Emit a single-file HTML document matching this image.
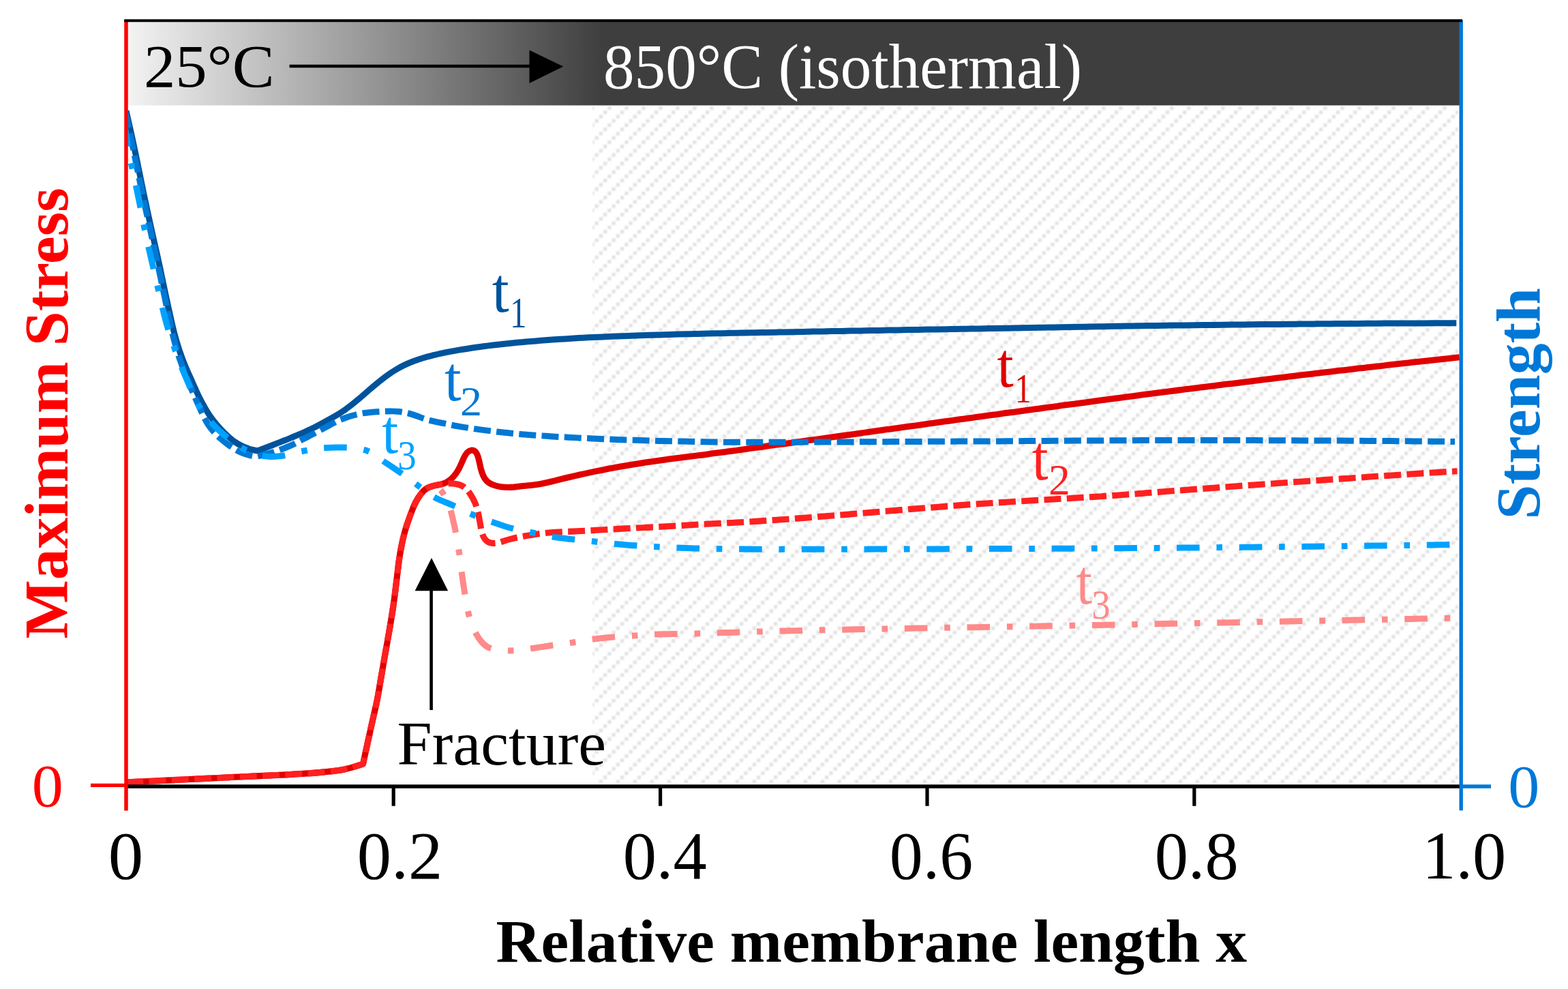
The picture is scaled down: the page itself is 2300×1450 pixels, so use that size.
<!DOCTYPE html>
<html lang="en">
<head>
<meta charset="utf-8">
<title>Maximum stress and strength vs relative membrane length</title>
<style>
html,body{margin:0;padding:0;background:#fff;}
body{width:2300px;height:1450px;overflow:hidden;}
svg{display:block;}
</style>
</head>
<body>
<svg width="2300" height="1450" viewBox="0 0 2300 1450" font-family="'Liberation Serif', serif" role="img" aria-label="Maximum stress and strength versus relative membrane length x">
<defs>
<linearGradient id="g" gradientUnits="userSpaceOnUse" x1="187" y1="0" x2="885" y2="0"><stop offset="0" stop-color="#f3f3f3"/><stop offset="1" stop-color="#3e3e3e"/></linearGradient>
<pattern id="h" patternUnits="userSpaceOnUse" x="-3" y="-1" width="25" height="25" fill="#e1e1e1"><rect x="0.55" y="0.65" width="5.2" height="5.2"/><rect x="19.3" y="6.9" width="5.2" height="5.2"/><rect x="13.05" y="13.15" width="5.2" height="5.2"/><rect x="6.8" y="19.4" width="5.2" height="5.2"/></pattern>
<filter id="b" x="0" y="0" width="1" height="1"><feGaussianBlur stdDeviation="0.8"/></filter>
<clipPath id="c"><rect x="187.4" y="154" width="1954" height="1000"/></clipPath>
</defs>
<rect width="2300" height="1450" fill="#fff"/>
<g>
<rect x="869" y="155" width="1270" height="993" fill="url(#h)" filter="url(#b)"/>
<g clip-path="url(#c)">
<path d="M185.0 1147.0C189.7 1146.8 194.3 1146.6 199.0 1146.3C203.7 1146.1 208.3 1145.9 213.0 1145.7C217.7 1145.4 222.3 1145.2 227.0 1145.0C231.7 1144.8 236.3 1144.5 241.0 1144.3C245.7 1144.1 250.3 1143.9 255.0 1143.6C259.7 1143.4 264.3 1143.2 269.0 1143.0C273.7 1142.7 278.3 1142.5 283.0 1142.3C287.6 1142.1 292.3 1141.8 297.0 1141.6C301.6 1141.4 306.3 1141.1 311.0 1140.9C315.6 1140.7 320.3 1140.5 325.0 1140.2C329.6 1140.0 334.3 1139.8 339.0 1139.5C343.6 1139.3 348.3 1139.1 353.0 1138.9C357.6 1138.6 362.3 1138.4 367.0 1138.2C371.6 1138.0 376.3 1137.8 381.0 1137.6C385.6 1137.4 390.3 1137.2 395.0 1137.0C399.6 1136.8 404.3 1136.6 409.0 1136.3C413.6 1136.1 418.3 1135.9 423.0 1135.6C427.6 1135.4 432.3 1135.1 437.0 1134.8C441.6 1134.6 446.3 1134.3 450.9 1133.9C455.6 1133.6 460.3 1133.3 464.9 1132.9C469.6 1132.5 474.2 1132.1 478.9 1131.6C483.5 1131.1 488.2 1130.6 492.8 1130.0C497.4 1129.4 502.0 1128.6 506.6 1127.6C511.1 1126.6 515.6 1125.3 520.1 1124.0C524.3 1122.7 528.4 1121.4 532.5 1120.0C533.5 1115.4 534.5 1110.9 535.5 1106.3C536.5 1101.8 537.5 1097.2 538.5 1092.6C539.5 1088.1 540.5 1083.5 541.5 1079.0C542.5 1074.4 543.5 1069.8 544.5 1065.3C545.5 1060.7 546.6 1056.2 547.6 1051.6C548.6 1047.1 549.7 1042.5 550.7 1038.0C551.7 1033.4 552.7 1028.9 553.6 1024.3C554.5 1019.7 555.3 1015.1 556.1 1010.5C556.9 1005.9 557.6 1001.3 558.4 996.7C559.2 992.1 560.0 987.5 560.8 982.9C561.6 978.3 562.4 973.7 563.2 969.1C564.0 964.5 564.8 959.9 565.6 955.3C566.4 950.7 567.3 946.1 568.1 941.5C568.9 936.9 569.7 932.3 570.5 927.7C571.3 923.1 572.1 918.5 572.8 913.9C573.6 909.3 574.4 904.7 575.1 900.1C575.8 895.5 576.6 890.9 577.2 886.2C577.9 881.6 578.5 877.0 579.1 872.4C579.7 867.7 580.3 863.1 580.8 858.5C581.4 853.8 581.9 849.2 582.5 844.6C583.0 839.9 583.6 835.3 584.2 830.7C584.7 826.0 585.3 821.4 586.1 816.8C586.8 812.2 587.6 807.6 588.4 803.0C589.3 798.4 590.3 793.8 591.3 789.3C592.4 784.7 593.6 780.2 594.9 775.8C596.3 771.3 597.8 766.9 599.3 762.5C600.9 758.1 602.5 753.7 604.1 749.3C605.8 745.0 607.6 740.6 609.7 736.5C611.9 732.3 614.3 728.3 617.1 724.7C620.0 721.0 623.3 717.6 627.3 715.6C631.4 713.7 636.3 713.0 640.3 714.3C644.4 715.7 647.4 719.4 649.9 723.3C652.4 727.3 654.4 731.5 656.3 735.8C658.2 740.1 659.9 744.4 661.2 748.9C662.6 753.3 663.6 757.9 664.6 762.4C665.7 767.0 666.6 771.5 667.6 776.1C668.5 780.7 669.4 785.3 670.2 789.9C671.1 794.5 671.8 799.1 672.6 803.7C673.3 808.3 673.9 812.9 674.5 817.5C675.1 822.2 675.7 826.8 676.2 831.4C676.8 836.1 677.4 840.7 678.1 845.3C678.7 849.9 679.4 854.6 680.1 859.2C680.8 863.8 681.5 868.4 682.3 873.0C683.0 877.6 683.8 882.2 684.6 886.8C685.4 891.4 686.4 896.0 687.5 900.5C688.6 905.0 690.0 909.5 691.6 913.9C693.1 918.3 694.9 922.6 697.0 926.8C699.2 930.9 701.6 934.9 704.4 938.6C707.3 942.2 710.6 945.7 714.4 948.1C718.3 950.6 722.8 951.7 727.4 952.4C732.1 953.1 736.7 953.5 741.4 953.7C746.0 954.0 750.7 953.9 755.4 953.6C760.0 953.3 764.6 952.7 769.3 952.1C773.9 951.4 778.5 950.8 783.1 950.2C787.8 949.5 792.4 948.8 797.0 948.1C801.6 947.4 806.2 946.7 810.8 946.0C815.5 945.4 820.1 944.8 824.7 944.1C829.3 943.5 834.0 942.9 838.6 942.2C843.2 941.5 847.8 940.7 852.4 939.9C857.0 939.1 861.6 938.2 866.2 937.6C870.8 936.9 875.5 936.4 880.1 935.9C884.7 935.4 889.4 934.9 894.0 934.5C898.7 934.1 903.3 933.7 908.0 933.4C912.7 933.1 917.3 932.8 922.0 932.5C926.6 932.2 931.3 931.9 935.9 931.6C940.6 931.2 945.3 930.8 949.9 930.5C954.6 930.2 959.2 930.0 963.9 929.9C968.6 929.8 973.2 929.8 977.9 929.7C982.6 929.6 987.2 929.6 991.9 929.5C996.6 929.4 1001.2 929.3 1005.9 929.2C1010.6 929.1 1015.2 929.0 1019.9 928.9C1024.6 928.7 1029.2 928.6 1033.9 928.5C1038.6 928.3 1043.2 928.2 1047.9 928.1C1052.6 927.9 1057.2 927.8 1061.9 927.6C1066.6 927.5 1071.2 927.3 1075.9 927.2C1080.6 927.0 1085.2 926.9 1089.9 926.7C1094.6 926.6 1099.2 926.4 1103.9 926.3C1108.6 926.1 1113.2 926.0 1117.9 925.9C1122.6 925.7 1127.2 925.6 1131.9 925.5C1136.6 925.3 1141.2 925.2 1145.9 925.1C1150.6 925.0 1155.2 924.9 1159.9 924.8C1164.6 924.7 1169.2 924.6 1173.9 924.5C1178.6 924.4 1183.2 924.2 1187.9 924.1C1192.6 924.0 1197.2 923.9 1201.9 923.8C1206.6 923.7 1211.2 923.6 1215.9 923.6C1220.6 923.5 1225.2 923.4 1229.9 923.3C1234.6 923.2 1239.2 923.1 1243.9 923.0C1248.6 922.9 1253.2 922.8 1257.9 922.7C1262.6 922.6 1267.2 922.5 1271.9 922.4C1276.6 922.3 1281.2 922.3 1285.9 922.2C1290.6 922.1 1295.2 922.0 1299.9 921.9C1304.6 921.8 1309.2 921.7 1313.9 921.6C1318.6 921.6 1323.2 921.5 1327.9 921.4C1332.6 921.3 1337.2 921.2 1341.9 921.1C1346.6 921.1 1351.2 921.0 1355.9 920.9C1360.6 920.8 1365.2 920.7 1369.9 920.7C1374.6 920.6 1379.2 920.5 1383.9 920.4C1388.6 920.3 1393.2 920.2 1397.9 920.2C1402.6 920.1 1407.2 920.0 1411.9 919.9C1416.6 919.8 1421.2 919.8 1425.9 919.7C1430.6 919.6 1435.3 919.5 1439.9 919.4C1444.6 919.4 1449.3 919.3 1453.9 919.2C1458.6 919.1 1463.3 919.0 1467.9 919.0C1472.6 918.9 1477.3 918.8 1481.9 918.7C1486.6 918.6 1491.3 918.6 1495.9 918.5C1500.6 918.4 1505.3 918.3 1509.9 918.2C1514.6 918.2 1519.3 918.1 1523.9 918.0C1528.6 917.9 1533.3 917.8 1537.9 917.7C1542.6 917.7 1547.3 917.6 1551.9 917.5C1556.6 917.4 1561.3 917.3 1565.9 917.2C1570.6 917.2 1575.3 917.1 1579.9 917.0C1584.6 916.9 1589.3 916.8 1593.9 916.7C1598.6 916.6 1603.3 916.5 1607.9 916.4C1612.6 916.4 1617.3 916.3 1621.9 916.2C1626.6 916.1 1631.3 916.0 1635.9 915.9C1640.6 915.8 1645.3 915.7 1649.9 915.6C1654.6 915.6 1659.3 915.5 1663.9 915.4C1668.6 915.3 1673.3 915.2 1678.0 915.1C1682.6 915.0 1687.3 914.9 1692.0 914.8C1696.6 914.7 1701.3 914.7 1706.0 914.6C1710.6 914.5 1715.3 914.4 1720.0 914.3C1724.6 914.2 1729.3 914.1 1734.0 914.0C1738.6 913.9 1743.3 913.8 1748.0 913.8C1752.6 913.7 1757.3 913.6 1762.0 913.5C1766.6 913.4 1771.3 913.3 1776.0 913.2C1780.6 913.1 1785.3 913.0 1790.0 912.9C1794.6 912.8 1799.3 912.8 1804.0 912.7C1808.6 912.6 1813.3 912.5 1818.0 912.4C1822.6 912.3 1827.3 912.2 1832.0 912.1C1836.6 912.0 1841.3 911.9 1846.0 911.8C1850.6 911.7 1855.3 911.7 1860.0 911.6C1864.6 911.5 1869.3 911.4 1874.0 911.3C1878.6 911.2 1883.3 911.1 1888.0 911.0C1892.6 910.9 1897.3 910.8 1902.0 910.7C1906.6 910.6 1911.3 910.6 1916.0 910.5C1920.6 910.4 1925.3 910.3 1930.0 910.2C1934.6 910.1 1939.3 910.0 1944.0 909.9C1948.6 909.8 1953.3 909.7 1958.0 909.6C1962.6 909.5 1967.3 909.5 1972.0 909.4C1976.7 909.3 1981.3 909.2 1986.0 909.1C1990.7 909.0 1995.3 908.9 2000.0 908.8C2004.7 908.7 2009.3 908.6 2014.0 908.5C2018.7 908.4 2023.3 908.3 2028.0 908.2C2032.7 908.2 2037.3 908.1 2042.0 908.0C2046.7 907.9 2051.3 907.8 2056.0 907.7C2060.7 907.6 2065.3 907.5 2070.0 907.4C2074.7 907.3 2079.3 907.2 2084.0 907.1C2088.7 907.0 2093.3 906.9 2098.0 906.8C2102.7 906.8 2107.3 906.7 2112.0 906.6C2116.7 906.5 2121.3 906.4 2126.0 906.3C2130.7 906.2 2135.3 906.1 2140.0 906.0" fill="none" stroke="#ff8a8a" stroke-width="9" stroke-linejoin="round" stroke-dasharray="33.6 24.8 8.6 24.7" stroke-dashoffset="2.3"/>
<path d="M185.0 1147.0C189.7 1146.8 194.3 1146.6 199.0 1146.3C203.7 1146.1 208.3 1145.9 213.0 1145.7C217.7 1145.4 222.3 1145.2 227.0 1145.0C231.7 1144.8 236.3 1144.5 241.0 1144.3C245.7 1144.1 250.3 1143.9 255.0 1143.6C259.7 1143.4 264.3 1143.2 269.0 1143.0C273.7 1142.7 278.3 1142.5 283.0 1142.3C287.6 1142.1 292.3 1141.8 297.0 1141.6C301.6 1141.4 306.3 1141.1 311.0 1140.9C315.6 1140.7 320.3 1140.5 325.0 1140.2C329.6 1140.0 334.3 1139.8 339.0 1139.5C343.6 1139.3 348.3 1139.1 353.0 1138.9C357.6 1138.6 362.3 1138.4 367.0 1138.2C371.6 1138.0 376.3 1137.8 381.0 1137.6C385.6 1137.4 390.3 1137.2 395.0 1137.0C399.6 1136.8 404.3 1136.6 409.0 1136.3C413.6 1136.1 418.3 1135.9 423.0 1135.6C427.6 1135.4 432.3 1135.1 437.0 1134.8C441.6 1134.6 446.3 1134.3 450.9 1133.9C455.6 1133.6 460.3 1133.3 464.9 1132.9C469.6 1132.5 474.2 1132.1 478.9 1131.6C483.5 1131.2 488.2 1130.6 492.8 1130.0C497.4 1129.4 502.0 1128.7 506.6 1127.7C511.1 1126.6 515.6 1125.3 520.1 1124.0C524.3 1122.7 528.4 1121.4 532.5 1120.0C533.5 1115.4 534.5 1110.9 535.5 1106.3C536.5 1101.8 537.5 1097.2 538.5 1092.6C539.5 1088.1 540.5 1083.5 541.5 1079.0C542.5 1074.4 543.5 1069.9 544.5 1065.3C545.5 1060.7 546.5 1056.2 547.6 1051.6C548.6 1047.1 549.7 1042.6 550.7 1038.0C551.7 1033.4 552.7 1028.9 553.6 1024.3C554.5 1019.7 555.3 1015.1 556.1 1010.5C556.9 1005.9 557.6 1001.3 558.4 996.7C559.2 992.1 560.0 987.5 560.8 982.9C561.6 978.3 562.4 973.7 563.2 969.1C564.0 964.5 564.8 959.9 565.6 955.3C566.4 950.7 567.3 946.1 568.1 941.6C568.9 937.0 569.7 932.4 570.5 927.8C571.3 923.2 572.1 918.6 572.8 914.0C573.6 909.4 574.4 904.7 575.1 900.1C575.8 895.5 576.6 890.9 577.2 886.3C577.9 881.7 578.5 877.1 579.1 872.4C579.7 867.8 580.2 863.2 580.8 858.5C581.4 853.9 581.9 849.3 582.5 844.6C583.0 840.0 583.6 835.4 584.1 830.7C584.7 826.1 585.3 821.5 586.0 816.9C586.7 812.2 587.5 807.7 588.4 803.1C589.3 798.5 590.2 793.9 591.3 789.4C592.4 784.8 593.6 780.3 594.9 775.8C596.2 771.4 597.7 766.9 599.3 762.5C600.8 758.1 602.4 753.8 604.1 749.4C605.7 745.0 607.5 740.7 609.6 736.6C611.7 732.4 614.1 728.4 617.0 724.7C619.8 721.0 623.1 717.6 627.2 715.3C631.2 713.1 635.9 712.2 640.4 711.3C645.0 710.4 649.7 709.7 653.9 707.7C658.0 705.6 661.7 702.7 664.8 699.3C668.0 695.8 670.6 691.9 672.8 687.8C675.1 683.7 676.8 679.4 678.7 675.1C680.5 670.8 682.5 666.5 685.7 663.2C688.8 659.9 693.8 658.9 697.0 661.8C700.2 664.8 701.4 669.7 702.4 674.2C703.5 678.8 704.4 683.4 705.5 687.9C706.7 692.4 708.2 696.9 710.6 700.8C713.1 704.7 716.7 707.9 720.9 709.9C725.0 711.9 729.6 713.0 734.3 713.7C738.9 714.3 743.6 714.5 748.2 714.4C752.9 714.2 757.5 713.6 762.1 713.1C766.8 712.7 771.4 712.2 776.1 711.7C780.7 711.2 785.3 710.6 790.0 709.9C794.6 709.2 799.1 708.3 803.7 707.2C808.2 706.1 812.7 705.0 817.3 703.8C821.8 702.7 826.3 701.6 830.9 700.5C835.4 699.5 840.0 698.4 844.5 697.4C849.1 696.4 853.6 695.3 858.2 694.4C862.7 693.4 867.3 692.4 871.9 691.4C876.4 690.5 881.0 689.6 885.6 688.7C890.2 687.8 894.8 686.9 899.4 686.1C903.9 685.2 908.5 684.4 913.1 683.6C917.7 682.8 922.3 682.1 927.0 681.3C931.6 680.6 936.2 679.9 940.8 679.1C945.4 678.4 950.0 677.7 954.6 677.1C959.2 676.4 963.9 675.7 968.5 675.0C973.1 674.4 977.7 673.7 982.3 673.1C987.0 672.5 991.6 671.9 996.2 671.3C1000.9 670.7 1005.5 670.1 1010.1 669.5C1014.7 668.9 1019.4 668.3 1024.0 667.8C1028.6 667.2 1033.3 666.6 1037.9 666.0C1042.5 665.3 1047.1 664.7 1051.8 664.1C1056.4 663.5 1061.0 662.9 1065.6 662.2C1070.3 661.6 1074.9 661.0 1079.5 660.4C1084.1 659.7 1088.8 659.1 1093.4 658.5C1098.0 657.8 1102.6 657.2 1107.3 656.6C1111.9 656.0 1116.5 655.3 1121.1 654.7C1125.8 654.0 1130.4 653.4 1135.0 652.8C1139.6 652.1 1144.3 651.5 1148.9 650.9C1153.5 650.2 1158.1 649.6 1162.7 648.9C1167.4 648.3 1172.0 647.7 1176.6 647.0C1181.2 646.4 1185.9 645.7 1190.5 645.1C1195.1 644.5 1199.7 643.8 1204.3 643.2C1209.0 642.5 1213.6 641.9 1218.2 641.2C1222.8 640.6 1227.5 640.0 1232.1 639.3C1236.7 638.7 1241.3 638.0 1245.9 637.4C1250.6 636.7 1255.2 636.1 1259.8 635.4C1264.4 634.8 1269.1 634.2 1273.7 633.5C1278.3 632.9 1282.9 632.2 1287.5 631.6C1292.2 630.9 1296.8 630.3 1301.4 629.6C1306.0 629.0 1310.7 628.4 1315.3 627.7C1319.9 627.1 1324.5 626.4 1329.1 625.8C1333.8 625.1 1338.4 624.5 1343.0 623.9C1347.6 623.2 1352.3 622.6 1356.9 621.9C1361.5 621.3 1366.1 620.7 1370.7 620.0C1375.4 619.4 1380.0 618.7 1384.6 618.1C1389.2 617.5 1393.9 616.8 1398.5 616.2C1403.1 615.5 1407.7 614.9 1412.4 614.3C1417.0 613.6 1421.6 613.0 1426.2 612.4C1430.9 611.7 1435.5 611.1 1440.1 610.5C1444.7 609.9 1449.3 609.2 1454.0 608.6C1458.6 608.0 1463.2 607.3 1467.8 606.7C1472.5 606.1 1477.1 605.5 1481.7 604.8C1486.3 604.2 1491.0 603.6 1495.6 602.9C1500.2 602.3 1504.8 601.7 1509.5 601.1C1514.1 600.4 1518.7 599.8 1523.3 599.2C1528.0 598.6 1532.6 597.9 1537.2 597.3C1541.8 596.7 1546.5 596.1 1551.1 595.5C1555.7 594.8 1560.3 594.2 1565.0 593.6C1569.6 593.0 1574.2 592.4 1578.8 591.7C1583.5 591.1 1588.1 590.5 1592.7 589.9C1597.3 589.3 1602.0 588.6 1606.6 588.0C1611.2 587.4 1615.9 586.8 1620.5 586.2C1625.1 585.6 1629.7 585.0 1634.4 584.3C1639.0 583.7 1643.6 583.1 1648.2 582.5C1652.9 581.9 1657.5 581.3 1662.1 580.7C1666.7 580.1 1671.4 579.4 1676.0 578.8C1680.6 578.2 1685.2 577.6 1689.9 577.0C1694.5 576.4 1699.1 575.8 1703.8 575.2C1708.4 574.6 1713.0 574.0 1717.6 573.4C1722.3 572.8 1726.9 572.3 1731.5 571.7C1736.2 571.1 1740.8 570.5 1745.4 570.0C1750.1 569.4 1754.7 568.8 1759.3 568.2C1764.0 567.6 1768.6 567.1 1773.2 566.5C1777.8 565.9 1782.5 565.4 1787.1 564.8C1791.7 564.2 1796.4 563.6 1801.0 563.1C1805.6 562.5 1810.3 561.9 1814.9 561.4C1819.5 560.8 1824.2 560.2 1828.8 559.7C1833.4 559.1 1838.1 558.5 1842.7 558.0C1847.3 557.4 1852.0 556.8 1856.6 556.3C1861.2 555.7 1865.9 555.2 1870.5 554.6C1875.1 554.0 1879.8 553.5 1884.4 552.9C1889.0 552.4 1893.7 551.8 1898.3 551.3C1902.9 550.7 1907.6 550.1 1912.2 549.6C1916.8 549.0 1921.5 548.5 1926.1 547.9C1930.7 547.4 1935.4 546.9 1940.0 546.3C1944.6 545.8 1949.3 545.2 1953.9 544.7C1958.5 544.1 1963.2 543.6 1967.8 543.0C1972.5 542.5 1977.1 542.0 1981.7 541.4C1986.4 540.9 1991.0 540.4 1995.6 539.8C2000.3 539.3 2004.9 538.8 2009.5 538.2C2014.2 537.7 2018.8 537.2 2023.5 536.7C2028.1 536.1 2032.7 535.6 2037.4 535.1C2042.0 534.6 2046.6 534.0 2051.3 533.5C2055.9 533.0 2060.6 532.5 2065.2 532.0C2069.8 531.4 2074.5 530.9 2079.1 530.4C2083.7 529.9 2088.4 529.4 2093.0 528.9C2097.7 528.4 2102.3 527.9 2106.9 527.4C2111.6 526.9 2116.2 526.4 2120.9 525.9C2127.5 525.2 2134.1 524.5 2140.8 523.8" fill="none" stroke="#e00000" stroke-width="9.1" stroke-linejoin="round"/>
<path d="M185.0 1147.0C189.7 1146.8 194.3 1146.6 199.0 1146.3C203.7 1146.1 208.3 1145.9 213.0 1145.7C217.7 1145.4 222.3 1145.2 227.0 1145.0C231.7 1144.8 236.3 1144.5 241.0 1144.3C245.7 1144.1 250.3 1143.9 255.0 1143.6C259.7 1143.4 264.3 1143.2 269.0 1143.0C273.7 1142.7 278.3 1142.5 283.0 1142.3C287.6 1142.1 292.3 1141.8 297.0 1141.6C301.6 1141.4 306.3 1141.1 311.0 1140.9C315.6 1140.7 320.3 1140.5 325.0 1140.2C329.6 1140.0 334.3 1139.8 339.0 1139.5C343.6 1139.3 348.3 1139.1 353.0 1138.9C357.6 1138.6 362.3 1138.4 367.0 1138.2C371.6 1138.0 376.3 1137.8 381.0 1137.6C385.6 1137.4 390.3 1137.2 395.0 1137.0C399.6 1136.8 404.3 1136.6 409.0 1136.3C413.6 1136.1 418.3 1135.9 423.0 1135.6C427.6 1135.4 432.3 1135.1 437.0 1134.8C441.6 1134.6 446.3 1134.3 450.9 1133.9C455.6 1133.6 460.3 1133.3 464.9 1132.9C469.6 1132.5 474.2 1132.1 478.9 1131.6C483.5 1131.1 488.2 1130.6 492.8 1130.0C497.4 1129.4 502.0 1128.6 506.6 1127.6C511.1 1126.6 515.6 1125.3 520.1 1124.0C524.3 1122.7 528.4 1121.4 532.5 1120.0C533.5 1115.4 534.5 1110.9 535.5 1106.3C536.5 1101.8 537.5 1097.2 538.5 1092.6C539.5 1088.1 540.5 1083.5 541.5 1079.0C542.5 1074.4 543.5 1069.8 544.5 1065.3C545.5 1060.7 546.6 1056.2 547.6 1051.6C548.6 1047.1 549.7 1042.5 550.7 1038.0C551.7 1033.4 552.7 1028.8 553.6 1024.3C554.5 1019.7 555.3 1015.1 556.1 1010.5C556.9 1005.9 557.6 1001.3 558.4 996.7C559.2 992.1 560.0 987.5 560.8 982.9C561.6 978.3 562.4 973.7 563.2 969.1C564.0 964.5 564.8 959.9 565.6 955.3C566.5 950.7 567.3 946.1 568.1 941.5C568.9 936.9 569.7 932.3 570.5 927.7C571.3 923.1 572.1 918.5 572.9 913.9C573.6 909.3 574.4 904.7 575.1 900.0C575.8 895.4 576.6 890.8 577.2 886.2C577.9 881.6 578.5 877.0 579.1 872.3C579.7 867.7 580.3 863.1 580.8 858.4C581.4 853.8 581.9 849.2 582.5 844.5C583.1 839.9 583.6 835.2 584.2 830.6C584.7 826.0 585.3 821.4 586.1 816.7C586.8 812.1 587.6 807.5 588.4 802.9C589.3 798.4 590.3 793.8 591.3 789.2C592.4 784.7 593.6 780.2 595.0 775.7C596.3 771.2 597.8 766.8 599.3 762.4C600.9 758.0 602.5 753.6 604.2 749.3C605.8 744.9 607.6 740.6 609.7 736.4C611.9 732.3 614.3 728.3 617.2 724.6C620.0 721.0 623.4 717.7 627.4 715.5C631.5 713.3 636.0 712.2 640.6 711.3C645.2 710.4 649.8 709.5 654.4 709.0C659.1 708.6 663.7 708.7 668.3 709.5C672.9 710.2 677.4 711.6 681.1 714.3C684.7 717.1 687.5 720.9 690.0 724.8C692.6 728.7 694.9 732.8 696.7 737.1C698.5 741.3 699.8 745.8 700.9 750.4C702.0 754.9 702.9 759.5 703.7 764.1C704.5 768.7 705.2 773.3 706.2 777.9C707.2 782.4 708.6 787.0 711.4 790.5C714.1 794.1 718.3 796.1 722.9 796.4C727.4 796.8 732.0 795.6 736.4 794.1C740.8 792.6 745.2 791.2 749.8 790.1C754.3 789.0 758.9 788.0 763.5 787.1C768.0 786.2 772.6 785.4 777.3 784.7C781.9 784.0 786.5 783.3 791.1 782.6C795.7 782.0 800.4 781.4 805.0 781.0C809.7 780.6 814.3 780.3 819.0 780.0C823.7 779.8 828.3 779.6 833.0 779.4C837.6 779.3 842.3 779.1 847.0 778.8C851.6 778.6 856.3 778.3 861.0 778.1C865.6 777.8 870.3 777.5 874.9 777.3C879.6 777.0 884.3 776.7 888.9 776.5C893.6 776.2 898.2 775.9 902.9 775.7C907.6 775.4 912.2 775.1 916.9 774.9C921.6 774.6 926.2 774.4 930.9 774.2C935.5 773.9 940.2 773.7 944.9 773.5C949.5 773.2 954.2 773.0 958.9 772.8C963.5 772.5 968.2 772.3 972.8 772.0C977.5 771.8 982.2 771.5 986.8 771.3C991.5 771.0 996.2 770.7 1000.8 770.4C1005.5 770.1 1010.1 769.9 1014.8 769.6C1019.5 769.3 1024.1 769.0 1028.8 768.7C1033.4 768.5 1038.1 768.2 1042.8 768.0C1047.4 767.7 1052.1 767.5 1056.7 767.3C1061.4 767.1 1066.1 766.8 1070.7 766.6C1075.4 766.4 1080.1 766.1 1084.7 765.8C1089.4 765.5 1094.0 765.3 1098.7 765.0C1103.4 764.7 1108.0 764.4 1112.7 764.1C1117.3 763.8 1122.0 763.5 1126.7 763.1C1131.3 762.8 1136.0 762.5 1140.6 762.2C1145.3 761.8 1149.9 761.5 1154.6 761.2C1159.3 760.8 1163.9 760.5 1168.6 760.1C1173.2 759.8 1177.9 759.4 1182.5 759.1C1187.2 758.7 1191.8 758.3 1196.5 758.0C1201.2 757.6 1205.8 757.2 1210.5 756.9C1215.1 756.5 1219.8 756.1 1224.4 755.7C1229.1 755.3 1233.7 755.0 1238.4 754.6C1243.0 754.2 1247.7 753.8 1252.3 753.4C1257.0 753.0 1261.6 752.6 1266.3 752.2C1270.9 751.9 1275.6 751.5 1280.3 751.1C1284.9 750.7 1289.6 750.3 1294.2 749.9C1298.9 749.5 1303.5 749.1 1308.2 748.7C1312.8 748.4 1317.5 748.0 1322.1 747.6C1326.8 747.2 1331.4 746.8 1336.1 746.4C1340.7 746.0 1345.4 745.7 1350.0 745.3C1354.7 744.9 1359.4 744.5 1364.0 744.2C1368.7 743.8 1373.3 743.4 1378.0 743.1C1382.6 742.7 1387.3 742.3 1391.9 742.0C1396.6 741.6 1401.2 741.3 1405.9 740.9C1410.6 740.6 1415.2 740.2 1419.9 739.9C1424.5 739.6 1429.2 739.2 1433.8 738.9C1438.5 738.6 1443.2 738.3 1447.8 738.0C1452.5 737.7 1457.1 737.4 1461.8 737.1C1466.4 736.8 1471.1 736.5 1475.8 736.2C1480.4 735.9 1485.1 735.6 1489.7 735.3C1494.4 735.0 1499.1 734.7 1503.7 734.5C1508.4 734.2 1513.0 733.9 1517.7 733.6C1522.4 733.3 1527.0 733.1 1531.7 732.8C1536.4 732.5 1541.0 732.2 1545.7 732.0C1550.3 731.7 1555.0 731.4 1559.7 731.1C1564.3 730.9 1569.0 730.6 1573.6 730.3C1578.3 730.0 1583.0 729.7 1587.6 729.4C1592.3 729.1 1596.9 728.9 1601.6 728.6C1606.3 728.3 1610.9 728.0 1615.6 727.7C1620.2 727.3 1624.9 727.0 1629.5 726.7C1634.2 726.4 1638.9 726.1 1643.5 725.7C1648.2 725.4 1652.8 725.1 1657.5 724.7C1662.1 724.4 1666.8 724.0 1671.5 723.6C1676.1 723.3 1680.8 722.9 1685.4 722.5C1690.1 722.1 1694.7 721.8 1699.4 721.4C1704.0 721.0 1708.7 720.6 1713.3 720.3C1718.0 719.9 1722.6 719.6 1727.3 719.2C1732.0 718.9 1736.6 718.5 1741.3 718.2C1745.9 717.8 1750.6 717.5 1755.2 717.1C1759.9 716.8 1764.6 716.4 1769.2 716.1C1773.9 715.8 1778.5 715.4 1783.2 715.1C1787.8 714.7 1792.5 714.4 1797.1 714.1C1801.8 713.7 1806.5 713.4 1811.1 713.0C1815.8 712.7 1820.4 712.4 1825.1 712.0C1829.7 711.7 1834.4 711.3 1839.1 711.0C1843.7 710.7 1848.4 710.3 1853.0 710.0C1857.7 709.7 1862.3 709.3 1867.0 709.0C1871.7 708.7 1876.3 708.3 1881.0 708.0C1885.6 707.7 1890.3 707.3 1894.9 707.0C1899.6 706.7 1904.2 706.3 1908.9 706.0C1913.6 705.7 1918.2 705.4 1922.9 705.0C1927.5 704.7 1932.2 704.4 1936.9 704.1C1941.5 703.7 1946.2 703.4 1950.8 703.1C1955.5 702.8 1960.1 702.4 1964.8 702.1C1969.5 701.8 1974.1 701.5 1978.8 701.2C1983.4 700.8 1988.1 700.5 1992.7 700.2C1997.4 699.9 2002.1 699.6 2006.7 699.3C2011.4 698.9 2016.0 698.6 2020.7 698.3C2025.4 698.0 2030.0 697.7 2034.7 697.4C2039.3 697.1 2044.0 696.8 2048.6 696.5C2053.3 696.2 2058.0 695.8 2062.6 695.5C2067.3 695.2 2071.9 694.9 2076.6 694.6C2081.3 694.3 2085.9 694.0 2090.6 693.7C2095.2 693.4 2099.9 693.1 2104.6 692.8C2109.2 692.5 2113.9 692.2 2118.5 691.9C2124.9 691.5 2131.2 691.1 2137.5 690.8" fill="none" stroke="#ff2020" stroke-width="9.1" stroke-linejoin="round" stroke-dasharray="25 8.33" stroke-dashoffset="33.1"/>
<path d="M185.0 162.5C186.0 167.1 187.1 171.6 188.1 176.2C189.1 180.7 190.1 185.3 191.2 189.8C192.2 194.4 193.2 199.0 194.2 203.5C195.2 208.1 196.1 212.7 197.1 217.2C198.1 221.8 199.1 226.4 200.0 230.9C201.0 235.5 201.9 240.1 202.8 244.7C203.8 249.2 204.7 253.8 205.6 258.4C206.5 263.0 207.5 267.5 208.4 272.1C209.3 276.7 210.3 281.3 211.2 285.8C212.2 290.4 213.2 295.0 214.2 299.5C215.1 304.1 216.1 308.7 217.1 313.2C218.1 317.8 219.1 322.4 220.1 326.9C221.1 331.5 222.1 336.0 223.1 340.6C224.1 345.2 225.2 349.7 226.2 354.3C227.2 358.8 228.2 363.4 229.3 367.9C230.3 372.5 231.3 377.1 232.3 381.6C233.3 386.2 234.3 390.7 235.3 395.3C236.2 399.9 237.2 404.5 238.1 409.0C239.1 413.6 240.0 418.2 241.0 422.8C241.9 427.3 242.9 431.9 243.9 436.5C244.9 441.0 245.9 445.6 246.9 450.1C247.9 454.7 248.9 459.3 249.9 463.8C250.9 468.4 252.0 472.9 253.0 477.5C254.1 482.0 255.2 486.6 256.4 491.1C257.6 495.6 258.9 500.1 260.3 504.5C261.6 509.0 263.0 513.5 264.6 517.9C266.1 522.3 267.7 526.7 269.4 531.0C271.1 535.4 272.9 539.7 274.8 543.9C276.7 548.2 278.7 552.5 280.6 556.7C282.5 561.0 284.3 565.3 286.3 569.5C288.2 573.8 290.1 578.0 292.2 582.2C294.3 586.4 296.5 590.5 298.8 594.6C301.0 598.7 303.4 602.7 305.9 606.6C308.5 610.5 311.2 614.3 314.1 618.0C317.0 621.6 320.0 625.2 323.2 628.6C326.4 632.1 329.7 635.3 333.1 638.5C336.6 641.7 340.1 644.8 343.9 647.5C347.6 650.2 351.8 652.4 356.0 654.3C360.3 656.2 364.6 658.0 369.1 659.2C372.0 660.0 374.9 660.5 377.9 661.0C382.3 659.3 386.6 657.7 391.0 656.0C395.3 654.3 399.7 652.6 404.0 650.9C408.4 649.2 412.7 647.5 417.1 645.8C421.4 644.1 425.7 642.3 430.1 640.5C434.4 638.8 438.7 636.9 443.0 635.1C447.2 633.2 451.5 631.3 455.7 629.3C460.0 627.4 464.1 625.2 468.2 623.0C472.3 620.8 476.4 618.5 480.5 616.2C484.6 614.0 488.7 611.7 492.7 609.4C496.7 607.0 500.7 604.5 504.5 601.9C508.3 599.2 512.0 596.3 515.7 593.5C519.4 590.6 523.0 587.6 526.6 584.6C530.2 581.7 533.7 578.6 537.2 575.5C540.7 572.4 544.2 569.4 547.8 566.4C551.4 563.4 555.0 560.4 558.7 557.5C562.3 554.6 566.0 551.8 569.8 549.1C573.6 546.4 577.6 543.9 581.6 541.5C585.6 539.1 589.7 536.9 593.9 534.9C598.1 532.8 602.4 531.0 606.8 529.4C611.2 527.8 615.6 526.3 620.1 525.0C624.6 523.6 629.1 522.4 633.6 521.3C638.1 520.1 642.7 519.1 647.2 518.1C651.8 517.1 656.4 516.2 661.0 515.4C665.6 514.5 670.2 513.7 674.8 512.9C679.4 512.1 684.0 511.4 688.6 510.7C693.2 510.0 697.8 509.3 702.5 508.7C707.1 508.1 711.7 507.5 716.3 506.9C721.0 506.3 725.6 505.8 730.3 505.2C734.9 504.7 739.5 504.2 744.2 503.7C748.8 503.2 753.5 502.8 758.1 502.3C762.8 501.9 767.4 501.5 772.1 501.1C776.7 500.7 781.4 500.3 786.0 499.9C790.7 499.5 795.3 499.2 800.0 498.8C804.6 498.5 809.3 498.1 814.0 497.8C818.6 497.5 823.3 497.2 827.9 496.9C832.6 496.6 837.3 496.3 841.9 496.0C846.6 495.7 851.2 495.5 855.9 495.2C860.6 495.0 865.2 494.7 869.9 494.5C874.6 494.3 879.2 494.1 883.9 493.9C888.5 493.7 893.2 493.5 897.9 493.3C902.5 493.1 907.2 492.9 911.9 492.7C916.5 492.6 921.2 492.4 925.9 492.2C930.5 492.1 935.2 491.9 939.9 491.8C944.5 491.6 949.2 491.5 953.9 491.3C958.5 491.2 963.2 491.0 967.9 490.9C972.5 490.7 977.2 490.6 981.9 490.5C986.5 490.4 991.2 490.2 995.9 490.1C1000.5 490.0 1005.2 489.9 1009.9 489.8C1014.5 489.6 1019.2 489.5 1023.9 489.4C1028.5 489.3 1033.2 489.2 1037.9 489.1C1042.5 489.0 1047.2 488.9 1051.9 488.8C1056.6 488.7 1061.2 488.6 1065.9 488.5C1070.6 488.4 1075.2 488.3 1079.9 488.2C1084.6 488.1 1089.2 488.0 1093.9 487.9C1098.6 487.8 1103.2 487.8 1107.9 487.7C1112.6 487.6 1117.2 487.5 1121.9 487.4C1126.6 487.3 1131.2 487.2 1135.9 487.2C1140.6 487.1 1145.2 487.0 1149.9 486.9C1154.6 486.8 1159.2 486.7 1163.9 486.7C1168.6 486.6 1173.3 486.5 1177.9 486.4C1182.6 486.3 1187.3 486.2 1191.9 486.1C1196.6 486.1 1201.3 486.0 1205.9 485.9C1210.6 485.8 1215.3 485.7 1219.9 485.6C1224.6 485.5 1229.3 485.5 1233.9 485.4C1238.6 485.3 1243.3 485.2 1247.9 485.1C1252.6 485.0 1257.3 484.9 1261.9 484.9C1266.6 484.8 1271.3 484.7 1276.0 484.6C1280.6 484.5 1285.3 484.4 1290.0 484.4C1294.6 484.3 1299.3 484.2 1304.0 484.1C1308.6 484.0 1313.3 484.0 1318.0 483.9C1322.6 483.8 1327.3 483.7 1332.0 483.6C1336.6 483.5 1341.3 483.5 1346.0 483.4C1350.6 483.3 1355.3 483.2 1360.0 483.1C1364.7 483.1 1369.3 483.0 1374.0 482.9C1378.7 482.8 1383.3 482.7 1388.0 482.7C1392.7 482.6 1397.3 482.5 1402.0 482.4C1406.7 482.3 1411.3 482.3 1416.0 482.2C1420.7 482.1 1425.3 482.0 1430.0 481.9C1434.7 481.9 1439.3 481.8 1444.0 481.7C1448.7 481.6 1453.3 481.6 1458.0 481.5C1462.7 481.4 1467.4 481.3 1472.0 481.2C1476.7 481.2 1481.4 481.1 1486.0 481.0C1490.7 480.9 1495.4 480.8 1500.0 480.8C1504.7 480.7 1509.4 480.6 1514.0 480.5C1518.7 480.5 1523.4 480.4 1528.0 480.3C1532.7 480.2 1537.4 480.1 1542.0 480.1C1546.7 480.0 1551.4 479.9 1556.1 479.8C1560.7 479.7 1565.4 479.7 1570.1 479.6C1574.7 479.5 1579.4 479.4 1584.1 479.3C1588.7 479.3 1593.4 479.2 1598.1 479.1C1602.7 479.0 1607.4 478.9 1612.1 478.8C1616.7 478.8 1621.4 478.7 1626.1 478.6C1630.7 478.5 1635.4 478.4 1640.1 478.3C1644.7 478.2 1649.4 478.2 1654.1 478.1C1658.8 478.0 1663.4 477.9 1668.1 477.8C1672.8 477.7 1677.4 477.7 1682.1 477.6C1686.8 477.5 1691.4 477.5 1696.1 477.4C1700.8 477.3 1705.4 477.2 1710.1 477.2C1714.8 477.1 1719.4 477.1 1724.1 477.0C1728.8 477.0 1733.4 476.9 1738.1 476.9C1742.8 476.8 1747.5 476.7 1752.1 476.7C1756.8 476.6 1761.5 476.6 1766.1 476.5C1770.8 476.5 1775.5 476.4 1780.1 476.4C1784.8 476.3 1789.5 476.3 1794.1 476.2C1798.8 476.2 1803.5 476.1 1808.1 476.1C1812.8 476.0 1817.5 476.0 1822.2 475.9C1826.8 475.9 1831.5 475.8 1836.2 475.8C1840.8 475.7 1845.5 475.7 1850.2 475.6C1854.8 475.6 1859.5 475.5 1864.2 475.5C1868.8 475.4 1873.5 475.4 1878.2 475.4C1882.8 475.3 1887.5 475.3 1892.2 475.2C1896.9 475.2 1901.5 475.1 1906.2 475.1C1910.9 475.0 1915.5 475.0 1920.2 475.0C1924.9 474.9 1929.5 474.9 1934.2 474.8C1938.9 474.8 1943.5 474.8 1948.2 474.7C1952.9 474.7 1957.5 474.6 1962.2 474.6C1966.9 474.6 1971.6 474.5 1976.2 474.5C1980.9 474.5 1985.6 474.4 1990.2 474.4C1994.9 474.4 1999.6 474.3 2004.2 474.3C2008.9 474.3 2013.6 474.2 2018.2 474.2C2022.9 474.2 2027.6 474.2 2032.2 474.1C2036.9 474.1 2041.6 474.1 2046.3 474.1C2050.9 474.0 2055.6 474.0 2060.3 474.0C2064.9 474.0 2069.6 473.9 2074.3 473.9C2078.9 473.9 2083.6 473.9 2088.3 473.9C2092.9 473.9 2097.6 473.8 2102.3 473.8C2107.0 473.8 2111.6 473.8 2116.3 473.8C2123.0 473.8 2129.6 473.8 2136.3 473.8" fill="none" stroke="#00539b" stroke-width="9" stroke-linejoin="round"/>
<path d="M183.5 162.5C184.5 167.1 185.5 171.6 186.4 176.2C187.4 180.8 188.4 185.4 189.4 189.9C190.3 194.5 191.3 199.1 192.3 203.6C193.2 208.2 194.2 212.8 195.2 217.4C196.1 221.9 197.1 226.5 198.0 231.1C198.9 235.7 199.9 240.3 200.8 244.8C201.8 249.4 202.7 254.0 203.6 258.6C204.6 263.2 205.5 267.7 206.4 272.3C207.4 276.9 208.3 281.5 209.3 286.1C210.3 290.6 211.2 295.2 212.2 299.8C213.2 304.3 214.2 308.9 215.2 313.5C216.2 318.0 217.2 322.6 218.2 327.2C219.2 331.7 220.2 336.3 221.2 340.9C222.2 345.4 223.2 350.0 224.2 354.6C225.2 359.1 226.2 363.7 227.2 368.3C228.2 372.8 229.2 377.4 230.2 382.0C231.2 386.5 232.2 391.1 233.1 395.7C234.1 400.3 235.1 404.8 236.0 409.4C237.0 414.0 237.9 418.6 238.9 423.1C239.8 427.7 240.8 432.3 241.8 436.9C242.7 441.4 243.7 446.0 244.7 450.6C245.6 455.2 246.6 459.8 247.5 464.3C248.5 468.9 249.4 473.5 250.4 478.0C251.4 482.6 252.5 487.2 253.6 491.7C254.7 496.2 255.9 500.8 257.2 505.3C258.4 509.8 259.7 514.3 261.1 518.7C262.5 523.2 264.0 527.6 265.6 532.0C267.1 536.4 268.8 540.8 270.5 545.2C272.2 549.5 273.9 553.9 275.7 558.2C277.4 562.5 279.2 566.8 281.0 571.1C282.8 575.5 284.7 579.7 286.6 584.0C288.5 588.3 290.4 592.5 292.4 596.8C294.3 601.0 296.2 605.3 298.2 609.5C300.3 613.7 302.4 617.9 304.9 621.8C307.4 625.8 310.3 629.5 313.4 633.0C316.5 636.5 319.8 639.8 323.3 642.8C326.8 645.9 330.5 648.8 334.2 651.6C338.0 654.4 341.9 657.0 345.9 659.4C349.9 661.8 354.1 663.8 358.5 665.3C363.9 667.2 369.4 668.5 375.0 669.5C379.6 668.5 384.1 667.5 388.6 666.4C393.2 665.2 397.6 663.9 402.1 662.5C406.5 661.0 410.9 659.5 415.3 657.8C419.6 656.1 424.0 654.4 428.2 652.4C432.4 650.4 436.6 648.3 440.7 646.1C444.8 643.9 449.0 641.8 453.1 639.6C457.2 637.4 461.4 635.3 465.5 633.1C469.6 630.9 473.7 628.7 477.8 626.4C481.9 624.2 486.0 621.8 490.1 619.7C494.2 617.5 498.5 615.6 502.9 614.0C507.2 612.4 511.7 610.9 516.1 609.5C520.6 608.2 525.1 607.0 529.7 606.2C534.3 605.3 538.9 604.8 543.6 604.4C548.2 604.0 552.9 603.7 557.5 603.4C562.2 603.2 566.9 603.0 571.5 602.9C576.2 602.8 580.9 603.0 585.5 603.5C590.1 604.1 594.7 604.9 599.3 606.0C603.8 607.1 608.2 608.6 612.5 610.3C616.9 612.0 621.2 613.8 625.7 615.0C630.2 616.3 634.7 617.3 639.3 618.3C643.9 619.3 648.5 620.2 653.0 621.1C657.6 622.1 662.2 623.1 666.7 624.0C671.3 624.8 675.9 625.6 680.5 626.4C685.1 627.1 689.8 627.8 694.4 628.5C699.0 629.2 703.6 629.8 708.2 630.4C712.9 631.0 717.5 631.6 722.1 632.2C726.8 632.7 731.4 633.2 736.1 633.8C740.7 634.3 745.3 634.8 750.0 635.2C754.6 635.7 759.3 636.2 763.9 636.6C768.6 637.0 773.2 637.4 777.9 637.7C782.5 638.1 787.2 638.4 791.8 638.7C796.5 639.0 801.2 639.3 805.8 639.6C810.5 639.9 815.1 640.2 819.8 640.4C824.5 640.7 829.1 640.9 833.8 641.2C838.4 641.4 843.1 641.7 847.8 641.9C852.4 642.1 857.1 642.4 861.8 642.6C866.4 642.8 871.1 643.1 875.7 643.3C880.4 643.5 885.1 643.7 889.7 643.9C894.4 644.1 899.1 644.3 903.7 644.4C908.4 644.6 913.1 644.7 917.7 644.9C922.4 645.0 927.1 645.2 931.7 645.3C936.4 645.5 941.0 645.6 945.7 645.7C950.4 645.9 955.0 646.0 959.7 646.1C964.4 646.3 969.0 646.4 973.7 646.5C978.4 646.6 983.0 646.7 987.7 646.8C992.4 646.9 997.0 647.0 1001.7 647.1C1006.4 647.2 1011.0 647.3 1015.7 647.4C1020.4 647.5 1025.0 647.6 1029.7 647.7C1034.4 647.7 1039.0 647.8 1043.7 647.9C1048.4 648.0 1053.1 648.0 1057.7 648.1C1062.4 648.2 1067.1 648.2 1071.7 648.3C1076.4 648.3 1081.1 648.3 1085.7 648.3C1090.4 648.3 1095.1 648.3 1099.7 648.3C1104.4 648.3 1109.1 648.3 1113.7 648.3C1118.4 648.3 1123.1 648.3 1127.7 648.3C1132.4 648.3 1137.1 648.2 1141.7 648.2C1146.4 648.2 1151.1 648.2 1155.7 648.2C1160.4 648.2 1165.1 648.2 1169.7 648.2C1174.4 648.2 1179.1 648.1 1183.8 648.1C1188.4 648.1 1193.1 648.1 1197.8 648.1C1202.4 648.1 1207.1 648.1 1211.8 648.0C1216.4 648.0 1221.1 648.0 1225.8 648.0C1230.4 648.0 1235.1 647.9 1239.8 647.9C1244.4 647.9 1249.1 647.9 1253.8 647.9C1258.4 647.9 1263.1 647.8 1267.8 647.8C1272.4 647.8 1277.1 647.8 1281.8 647.7C1286.4 647.7 1291.1 647.7 1295.8 647.7C1300.4 647.7 1305.1 647.6 1309.8 647.6C1314.5 647.6 1319.1 647.6 1323.8 647.5C1328.5 647.5 1333.1 647.5 1337.8 647.5C1342.5 647.5 1347.1 647.4 1351.8 647.4C1356.5 647.4 1361.1 647.4 1365.8 647.3C1370.5 647.3 1375.1 647.3 1379.8 647.3C1384.5 647.3 1389.1 647.2 1393.8 647.2C1398.5 647.2 1403.1 647.2 1407.8 647.1C1412.5 647.1 1417.1 647.1 1421.8 647.1C1426.5 647.1 1431.2 647.0 1435.8 647.0C1440.5 647.0 1445.2 647.0 1449.8 647.0C1454.5 646.9 1459.2 646.9 1463.8 646.9C1468.5 646.9 1473.2 646.8 1477.8 646.8C1482.5 646.8 1487.2 646.7 1491.8 646.7C1496.5 646.7 1501.2 646.7 1505.8 646.6C1510.5 646.6 1515.2 646.6 1519.8 646.5C1524.5 646.5 1529.2 646.5 1533.8 646.4C1538.5 646.4 1543.2 646.4 1547.8 646.3C1552.5 646.3 1557.2 646.3 1561.9 646.2C1566.5 646.2 1571.2 646.2 1575.9 646.1C1580.5 646.1 1585.2 646.1 1589.9 646.0C1594.5 646.0 1599.2 646.0 1603.9 646.0C1608.5 645.9 1613.2 645.9 1617.9 645.9C1622.5 645.8 1627.2 645.8 1631.9 645.8C1636.5 645.8 1641.2 645.7 1645.9 645.7C1650.5 645.7 1655.2 645.7 1659.9 645.7C1664.5 645.6 1669.2 645.6 1673.9 645.6C1678.5 645.6 1683.2 645.6 1687.9 645.6C1692.6 645.5 1697.2 645.5 1701.9 645.5C1706.6 645.5 1711.2 645.5 1715.9 645.5C1720.6 645.5 1725.2 645.5 1729.9 645.5C1734.6 645.5 1739.2 645.5 1743.9 645.5C1748.6 645.5 1753.2 645.5 1757.9 645.5C1762.6 645.5 1767.2 645.5 1771.9 645.5C1776.6 645.5 1781.2 645.5 1785.9 645.5C1790.6 645.5 1795.2 645.5 1799.9 645.6C1804.6 645.6 1809.3 645.6 1813.9 645.6C1818.6 645.6 1823.3 645.6 1827.9 645.6C1832.6 645.6 1837.3 645.6 1841.9 645.6C1846.6 645.6 1851.3 645.7 1855.9 645.7C1860.6 645.7 1865.3 645.7 1869.9 645.7C1874.6 645.7 1879.3 645.7 1883.9 645.8C1888.6 645.8 1893.3 645.8 1897.9 645.8C1902.6 645.8 1907.3 645.8 1911.9 645.9C1916.6 645.9 1921.3 645.9 1925.9 645.9C1930.6 645.9 1935.3 646.0 1940.0 646.0C1944.6 646.0 1949.3 646.0 1954.0 646.1C1958.6 646.1 1963.3 646.1 1968.0 646.1C1972.6 646.2 1977.3 646.2 1982.0 646.2C1986.6 646.3 1991.3 646.3 1996.0 646.3C2000.6 646.3 2005.3 646.4 2010.0 646.4C2014.6 646.4 2019.3 646.5 2024.0 646.5C2028.6 646.5 2033.3 646.6 2038.0 646.6C2042.6 646.6 2047.3 646.7 2052.0 646.7C2056.6 646.8 2061.3 646.8 2066.0 646.8C2070.7 646.9 2075.3 646.9 2080.0 647.0C2084.7 647.0 2089.3 647.0 2094.0 647.1C2098.7 647.1 2103.3 647.2 2108.0 647.2C2112.7 647.3 2117.3 647.3 2122.0 647.4C2126.0 647.4 2130.0 647.5 2134.0 647.5" fill="none" stroke="#0078d4" stroke-width="9" stroke-linejoin="round" stroke-dasharray="25 8.33" stroke-dashoffset="32.9"/>
<path d="M181.0 170.0C181.7 174.6 182.3 179.2 183.0 183.9C183.7 188.5 184.3 193.1 185.0 197.7C185.7 202.3 186.5 206.9 187.2 211.5C188.0 216.1 188.8 220.7 189.7 225.3C190.5 229.9 191.4 234.5 192.3 239.1C193.2 243.6 194.2 248.2 195.2 252.8C196.2 257.3 197.2 261.9 198.1 266.5C199.1 271.0 200.1 275.6 201.1 280.1C202.0 284.7 203.0 289.3 203.9 293.9C204.8 298.4 205.7 303.0 206.6 307.6C207.4 312.2 208.3 316.8 209.2 321.3C210.1 325.9 211.0 330.5 212.0 335.1C212.9 339.6 213.9 344.2 214.9 348.8C215.9 353.3 216.9 357.9 217.9 362.4C219.0 367.0 220.0 371.5 221.0 376.1C222.1 380.6 223.1 385.2 224.2 389.7C225.2 394.3 226.3 398.8 227.3 403.4C228.4 407.9 229.4 412.5 230.5 417.0C231.5 421.6 232.6 426.1 233.6 430.7C234.7 435.2 235.7 439.8 236.7 444.3C237.8 448.9 238.8 453.4 239.9 457.9C241.0 462.5 242.2 467.0 243.4 471.5C244.7 476.0 246.0 480.5 247.4 484.9C248.8 489.4 250.2 493.8 251.7 498.2C253.2 502.7 254.7 507.1 256.3 511.5C257.9 515.9 259.5 520.2 261.1 524.6C262.7 529.0 264.4 533.3 266.1 537.7C267.8 542.0 269.6 546.3 271.4 550.6C273.2 554.9 275.1 559.2 276.9 563.5C278.8 567.8 280.7 572.1 282.6 576.3C284.5 580.6 286.5 584.8 288.7 588.9C290.8 593.1 293.2 597.1 295.7 601.0C298.3 604.9 301.1 608.6 304.0 612.3C306.9 615.9 309.9 619.5 313.1 622.9C316.3 626.2 319.7 629.5 323.1 632.6C326.6 635.8 330.1 638.9 333.7 641.8C337.3 644.8 341.0 647.7 344.8 650.3C348.6 653.0 352.6 655.5 356.7 657.7C360.8 659.9 365.1 661.9 369.4 663.7C373.7 665.5 378.1 667.0 382.6 667.9C387.2 668.8 391.9 669.3 396.5 669.5C401.2 669.6 405.8 669.4 410.4 668.8C415.1 668.2 419.6 667.2 424.2 666.1C428.7 665.0 433.2 663.8 437.8 662.7C442.3 661.7 446.9 660.9 451.5 660.0C456.1 659.1 460.6 658.2 465.3 657.5C469.9 656.9 474.5 656.6 479.2 656.4C483.9 656.3 488.5 656.2 493.2 656.1C497.9 656.0 502.5 656.0 507.2 656.1C511.9 656.2 516.5 656.5 521.1 657.1C525.8 657.7 530.4 658.5 534.9 659.7C539.3 660.9 543.6 662.9 547.5 665.4C551.3 668.0 555.0 670.9 558.8 673.6C562.6 676.4 566.5 678.9 570.4 681.5C574.3 684.0 578.2 686.6 582.0 689.2C585.9 691.8 589.7 694.5 593.5 697.3C597.3 700.0 601.0 702.8 604.7 705.6C608.5 708.4 612.2 711.2 615.9 714.0C619.7 716.8 623.3 719.7 627.1 722.4C630.9 725.2 634.8 727.7 638.9 729.9C643.1 732.0 647.3 733.9 651.7 735.7C656.0 737.4 660.3 739.1 664.6 741.0C668.9 742.9 673.1 744.9 677.2 747.0C681.4 749.1 685.6 751.2 689.8 753.1C694.1 755.0 698.4 756.8 702.8 758.5C707.1 760.1 711.5 761.7 715.9 763.2C720.3 764.8 724.7 766.3 729.2 767.8C733.6 769.4 738.0 770.9 742.4 772.2C746.9 773.6 751.4 774.8 755.9 775.9C760.5 777.0 765.1 777.9 769.6 778.8C774.2 779.7 778.8 780.6 783.4 781.5C787.9 782.5 792.5 783.5 797.1 784.5C801.6 785.5 806.2 786.3 810.8 787.1C815.4 787.8 820.0 788.4 824.7 789.0C829.3 789.6 833.9 790.1 838.6 790.6C843.2 791.1 847.9 791.6 852.5 792.1C857.2 792.5 861.8 793.0 866.4 793.4C871.1 793.9 875.7 794.4 880.3 795.0C885.0 795.6 889.6 796.2 894.2 796.7C898.9 797.3 903.5 797.7 908.2 798.1C912.8 798.5 917.5 798.9 922.1 799.2C926.8 799.5 931.4 799.8 936.1 800.1C940.8 800.4 945.4 800.7 950.1 801.0C954.7 801.3 959.4 801.5 964.1 801.7C968.7 802.0 973.4 802.2 978.0 802.4C982.7 802.6 987.4 802.8 992.0 803.0C996.7 803.2 1001.4 803.4 1006.0 803.6C1010.7 803.8 1015.3 803.9 1020.0 804.1C1024.7 804.2 1029.3 804.3 1034.0 804.4C1038.7 804.5 1043.3 804.6 1048.0 804.7C1052.7 804.8 1057.3 804.8 1062.0 804.9C1066.7 804.9 1071.3 804.9 1076.0 805.0C1080.7 805.0 1085.3 805.1 1090.0 805.1C1094.7 805.1 1099.3 805.1 1104.0 805.2C1108.7 805.2 1113.3 805.2 1118.0 805.2C1122.7 805.3 1127.3 805.3 1132.0 805.3C1136.7 805.3 1141.3 805.3 1146.0 805.3C1150.7 805.3 1155.3 805.3 1160.0 805.3C1164.7 805.3 1169.3 805.3 1174.0 805.3C1178.7 805.3 1183.3 805.3 1188.0 805.3C1192.7 805.3 1197.3 805.3 1202.0 805.3C1206.7 805.3 1211.3 805.3 1216.0 805.3C1220.7 805.3 1225.3 805.2 1230.0 805.2C1234.7 805.2 1239.3 805.2 1244.0 805.2C1248.7 805.2 1253.3 805.2 1258.0 805.2C1262.7 805.2 1267.3 805.2 1272.0 805.2C1276.7 805.2 1281.3 805.2 1286.0 805.1C1290.7 805.1 1295.3 805.1 1300.0 805.1C1304.7 805.1 1309.3 805.1 1314.0 805.1C1318.7 805.1 1323.3 805.0 1328.0 805.0C1332.7 805.0 1337.3 805.0 1342.0 805.0C1346.7 805.0 1351.3 805.0 1356.0 805.0C1360.7 804.9 1365.3 804.9 1370.0 804.9C1374.7 804.9 1379.3 804.9 1384.0 804.9C1388.7 804.9 1393.3 804.8 1398.0 804.8C1402.7 804.8 1407.3 804.8 1412.0 804.8C1416.7 804.8 1421.3 804.7 1426.0 804.7C1430.7 804.7 1435.3 804.7 1440.0 804.7C1444.7 804.7 1449.3 804.6 1454.0 804.6C1458.7 804.6 1463.3 804.6 1468.0 804.6C1472.7 804.5 1477.3 804.5 1482.0 804.5C1486.7 804.5 1491.3 804.5 1496.0 804.5C1500.7 804.4 1505.3 804.4 1510.0 804.4C1514.7 804.4 1519.3 804.4 1524.0 804.3C1528.7 804.3 1533.3 804.3 1538.0 804.3C1542.7 804.3 1547.3 804.3 1552.0 804.2C1556.7 804.2 1561.3 804.2 1566.0 804.2C1570.7 804.2 1575.3 804.1 1580.0 804.1C1584.7 804.1 1589.3 804.1 1594.0 804.0C1598.7 804.0 1603.3 804.0 1608.0 804.0C1612.7 803.9 1617.3 803.9 1622.0 803.9C1626.7 803.9 1631.3 803.8 1636.0 803.8C1640.7 803.8 1645.3 803.8 1650.0 803.7C1654.7 803.7 1659.3 803.7 1664.0 803.6C1668.7 803.6 1673.3 803.6 1678.0 803.5C1682.7 803.5 1687.3 803.5 1692.0 803.4C1696.7 803.4 1701.3 803.4 1706.0 803.3C1710.7 803.3 1715.3 803.3 1720.0 803.2C1724.7 803.2 1729.3 803.2 1734.0 803.1C1738.7 803.1 1743.3 803.0 1748.0 803.0C1752.7 803.0 1757.3 802.9 1762.0 802.9C1766.7 802.8 1771.3 802.8 1776.0 802.8C1780.7 802.7 1785.3 802.7 1790.0 802.6C1794.7 802.6 1799.3 802.5 1804.0 802.5C1808.7 802.5 1813.3 802.4 1818.0 802.4C1822.7 802.3 1827.3 802.3 1832.0 802.2C1836.7 802.2 1841.3 802.1 1846.0 802.1C1850.7 802.0 1855.3 802.0 1860.0 801.9C1864.7 801.9 1869.3 801.8 1874.0 801.8C1878.7 801.7 1883.3 801.7 1888.0 801.6C1892.7 801.6 1897.3 801.5 1902.0 801.5C1906.7 801.4 1911.3 801.4 1916.0 801.3C1920.7 801.3 1925.3 801.2 1930.0 801.2C1934.7 801.1 1939.3 801.1 1944.0 801.0C1948.7 800.9 1953.3 800.9 1958.0 800.8C1962.7 800.8 1967.3 800.7 1972.0 800.7C1976.7 800.6 1981.3 800.5 1986.0 800.5C1990.7 800.4 1995.3 800.4 2000.0 800.3C2004.7 800.3 2009.3 800.2 2014.0 800.1C2018.7 800.1 2023.3 800.0 2028.0 800.0C2032.7 799.9 2037.3 799.8 2042.0 799.8C2046.7 799.7 2051.3 799.6 2056.0 799.6C2060.7 799.5 2065.3 799.5 2070.0 799.4C2074.7 799.3 2079.3 799.3 2084.0 799.2C2088.7 799.1 2093.3 799.1 2098.0 799.0C2102.7 799.0 2107.3 798.9 2112.0 798.8C2116.7 798.8 2121.3 798.7 2126.0 798.6C2129.0 798.6 2132.0 798.5 2135.0 798.5" fill="none" stroke="#00a2ff" stroke-width="9" stroke-linejoin="round" stroke-dasharray="33.6 24.8 8.6 24.7" stroke-dashoffset="79.9"/>
</g>
<rect x="185" y="30" width="1957" height="124.5" fill="url(#g)"/>
<line x1="185" y1="1153" x2="2143" y2="1153" stroke="#000" stroke-width="5.6"/>
<line x1="577.2" y1="1153" x2="577.2" y2="1181.7" stroke="#000" stroke-width="5.2"/>
<line x1="968.6" y1="1153" x2="968.6" y2="1181.7" stroke="#000" stroke-width="5.2"/>
<line x1="1360" y1="1153" x2="1360" y2="1181.7" stroke="#000" stroke-width="5.2"/>
<line x1="1751.8" y1="1153" x2="1751.8" y2="1181.7" stroke="#000" stroke-width="5.2"/>
<line x1="185" y1="29" x2="185" y2="1188.5" stroke="#ff0000" stroke-width="5.5"/>
<line x1="133" y1="1151.4" x2="185" y2="1151.4" stroke="#ff0000" stroke-width="5.4"/>
<line x1="2143.2" y1="29.5" x2="2143.2" y2="1188.3" stroke="#0078d7" stroke-width="5.4"/>
<line x1="2143" y1="1153" x2="2187" y2="1153" stroke="#0078d7" stroke-width="5.6"/>
<line x1="182.2" y1="30.3" x2="2145" y2="30.3" stroke="#000" stroke-width="3.9"/>
<line x1="424.6" y1="97" x2="780" y2="97" stroke="#000" stroke-width="4.4"/>
<path d="M776.5 73.4L826.3 97.6L776.5 121.9Z" fill="#000"/>
<line x1="632.6" y1="1041" x2="632.6" y2="860" stroke="#000" stroke-width="4.6"/>
<path d="M608.6 866.2L633 818L657.2 866.2Z" fill="#000"/>
<text transform="translate(210.92 126.87) scale(0.9275 0.8928)" font-size="100" fill="#000">25°C</text>
<text transform="translate(885.00 128.64) scale(0.9114 0.9324)" font-size="100" fill="#fff">850°C (isothermal)</text>
<text transform="translate(582.55 1120.99) scale(0.9205 0.9076)" font-size="100" fill="#000">Fracture</text>
<text transform="translate(158.86 1288.47) scale(1.0298 1.0033)" font-size="100" fill="#000">0</text>
<text transform="translate(523.65 1288.47) scale(1.0056 1.0030)" font-size="100" fill="#000">0.2</text>
<text transform="translate(913.63 1288.47) scale(0.9849 1.0033)" font-size="100" fill="#000">0.4</text>
<text transform="translate(1304.85 1288.47) scale(0.9791 1.0030)" font-size="100" fill="#000">0.6</text>
<text transform="translate(1693.63 1288.46) scale(0.9844 1.0029)" font-size="100" fill="#000">0.8</text>
<text transform="translate(2086.24 1288.49) scale(0.9843 0.9953)" font-size="100" fill="#000">1.0</text>
<text transform="translate(727.44 1409.62) scale(0.9161 0.8989)" font-size="100" fill="#000" font-weight="bold">Relative membrane length x</text>
<text transform="translate(46.77 1182.48) scale(0.9212 0.8827)" font-size="100" fill="#ff0000">0</text>
<text transform="translate(2212.17 1182.78) scale(0.9212 0.8857)" font-size="100" fill="#0078d7">0</text>
<text transform="translate(98.80 936.56) rotate(-90) scale(0.9149 0.9022)" font-size="100" fill="#ff0000" font-weight="bold">Maximum Stress</text>
<text transform="translate(2257.87 761.60) rotate(-90) scale(0.9172 0.9111)" font-size="100" fill="#0078d7" font-weight="bold">Strength</text>
<text transform="translate(721.80 456.77) scale(0.9006 0.9263)" font-size="100" fill="#00539b">t</text>
<text transform="translate(747.88 480.10) scale(0.4914 0.6242)" font-size="100" fill="#00539b">1</text>
<text transform="translate(651.91 586.88) scale(0.8854 0.9246)" font-size="100" fill="#0078d4">t</text>
<text transform="translate(674.88 609.20) scale(0.6414 0.6155)" font-size="100" fill="#0078d4">2</text>
<text transform="translate(560.14 664.48) scale(0.8625 0.9193)" font-size="100" fill="#00a2ff">t</text>
<text transform="translate(583.15 687.69) scale(0.5490 0.6108)" font-size="100" fill="#00a2ff">3</text>
<text transform="translate(1462.43 566.78) scale(0.8739 0.9228)" font-size="100" fill="#e00000">t</text>
<text transform="translate(1488.43 589.70) scale(0.4857 0.6121)" font-size="100" fill="#e00000">1</text>
<text transform="translate(1513.84 702.58) scale(0.8587 0.9246)" font-size="100" fill="#ff2020">t</text>
<text transform="translate(1537.90 725.19) scale(0.6364 0.6246)" font-size="100" fill="#ff2020">2</text>
<text transform="translate(1578.76 885.06) scale(0.8396 0.9404)" font-size="100" fill="#ff8a8a">t</text>
<text transform="translate(1601.15 906.79) scale(0.5490 0.6108)" font-size="100" fill="#ff8a8a">3</text>
</g>
</svg>
</body>
</html>
